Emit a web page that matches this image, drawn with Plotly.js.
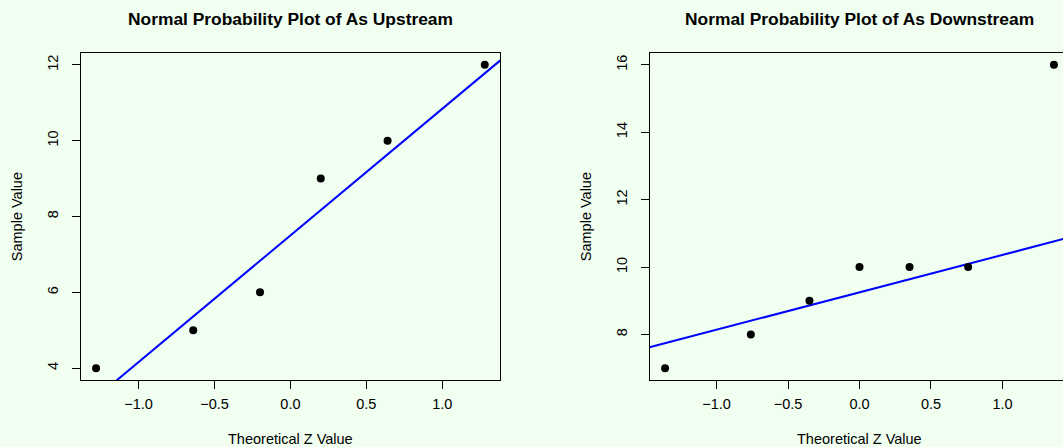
<!DOCTYPE html>
<html>
<head>
<meta charset="utf-8">
<script src="https://cdn.plot.ly/plotly-3.0.1.min.js"></script>
<style>
  html, body { margin: 0; padding: 0; overflow: hidden; background: #F0FFF0; }
  #chart { width: 1140px; height: 447px; }
</style>
</head>
<body>
<div id="chart"></div>
<script>
// ---- Data ----
const upstreamTheoreticalZ = [-1.28, -0.64, -0.20, 0.20, 0.64, 1.28];
const upstreamSample = [4, 5, 6, 9, 10, 12];
const upstreamLineSlope = 3.34;
const upstreamLineIntercept = 7.5;

const downstreamTheoreticalZ = [-1.36, -0.76, -0.35, 0.00, 0.35, 0.76, 1.36];
const downstreamSample = [7, 8, 9, 10, 10, 10, 16];
const downstreamLineSlope = 1.11;
const downstreamLineIntercept = 9.25;

const upstreamXTicks = [-1.0, -0.5, 0.0, 0.5, 1.0];
const upstreamYTicks = [4, 6, 8, 10, 12];
const downstreamXTicks = [-1.0, -0.5, 0.0, 0.5, 1.0];
const downstreamYTicks = [8, 10, 12, 14, 16];

const titles = ["Normal Probability Plot of As Upstream", "Normal Probability Plot of As Downstream"];
const xTitle = "Theoretical Z Value";
const yTitle = "Sample Value";

// ---- Styling / layout ----
const W = 1140, H = 447;
const FONT = "Liberation Sans, Arial, Helvetica, sans-serif";
const tickFont = { family: FONT, size: 14.5, color: "#000" };

function padRange(arr, frac) {
  const mn = Math.min(...arr), mx = Math.max(...arr);
  const d = (mx - mn) * frac;
  return [mn - d, mx + d];
}
const upXR = padRange(upstreamTheoreticalZ, 0.04);
const upYR = padRange(upstreamSample, 0.04);
const dnXR = padRange(downstreamTheoreticalZ, 0.04);
const dnYR = padRange(downstreamSample, 0.04);

function lineTrace(xr, slope, intercept, xa, ya) {
  return {
    x: [xr[0], xr[1]],
    y: [intercept + slope * xr[0], intercept + slope * xr[1]],
    mode: "lines", type: "scatter",
    line: { color: "#0000FF", width: 2 },
    xaxis: xa, yaxis: ya, hoverinfo: "skip", showlegend: false
  };
}
function pointTrace(x, y, xa, ya) {
  return {
    x: x, y: y, mode: "markers", type: "scatter",
    marker: { color: "#000", size: 8 },
    xaxis: xa, yaxis: ya, showlegend: false, cliponaxis: false
  };
}

const data = [
  lineTrace(upXR, upstreamLineSlope, upstreamLineIntercept, "x", "y"),
  pointTrace(upstreamTheoreticalZ, upstreamSample, "x", "y"),
  lineTrace(dnXR, downstreamLineSlope, downstreamLineIntercept, "x2", "y2"),
  pointTrace(downstreamTheoreticalZ, downstreamSample, "x2", "y2")
];

const yDom = [1 - 380.3 / H, 1 - 52.7 / H];
const leftDom = [80.5 / W, 500.3 / W];
const rightDom = [649.5 / W, 1069.5 / W];

function xAxis(dom, range, ticks, anchor) {
  return {
    domain: dom, range: range, anchor: anchor,
    tickmode: "array", tickvals: ticks, ticktext: ticks.map(v => (v < 0 ? "\u2212" : "") + Math.abs(v).toFixed(1)),
    ticks: "outside", ticklen: 8, tickwidth: 1, tickcolor: "#000", ticklabelstandoff: 2,
    showline: true, linecolor: "#000", linewidth: 1, mirror: true,
    showgrid: false, zeroline: false, tickfont: tickFont
  };
}
function yAxis(range, ticks, anchor) {
  return {
    domain: yDom, range: range, anchor: anchor,
    tickmode: "array", tickvals: ticks, ticktext: ticks.map(String),
    ticks: "outside", ticklen: 8, tickwidth: 1, tickcolor: "#000", tickangle: -90, ticklabelstandoff: 8,
    showline: true, linecolor: "#000", linewidth: 1, mirror: true,
    showgrid: false, zeroline: false, tickfont: tickFont
  };
}

function ann(text, xref, x, yPix, opts) {
  return Object.assign({
    text: text, xref: xref, x: x, yref: "paper", y: 1 - yPix / H,
    xanchor: "center", yanchor: "middle", showarrow: false,
    font: { family: FONT, size: 14.5, color: "#000" }
  }, opts || {});
}

const annotations = [
  ann("<b>" + titles[0] + "</b>", "x domain", 0.5, 19, { font: { family: FONT, size: 17.4, color: "#000" } }),
  ann("<b>" + titles[1] + "</b>", "x2 domain", 0.5, 19, { font: { family: FONT, size: 17.4, color: "#000" } }),
  ann(xTitle, "x domain", 0.5, 439.3),
  ann(xTitle, "x2 domain", 0.5, 439.3),
  ann(yTitle, "paper", 16.7 / W, 216.5, { textangle: -90 }),
  ann(yTitle, "paper", (649.5 - 63.8) / W, 216.5, { textangle: -90 })
];

const layout = {
  width: W, height: H,
  margin: { l: 0, r: 0, t: 0, b: 0, pad: 0 },
  paper_bgcolor: "#F0FFF0", plot_bgcolor: "#F0FFF0",
  showlegend: false,
  xaxis: xAxis(leftDom, upXR, upstreamXTicks, "y"),
  yaxis: yAxis(upYR, upstreamYTicks, "x"),
  xaxis2: xAxis(rightDom, dnXR, downstreamXTicks, "y2"),
  yaxis2: yAxis(dnYR, downstreamYTicks, "x2"),
  annotations: annotations,
  font: { family: FONT, color: "#000" }
};

Plotly.newPlot("chart", data, layout, { staticPlot: true, displayModeBar: false });
</script>
</body>
</html>
